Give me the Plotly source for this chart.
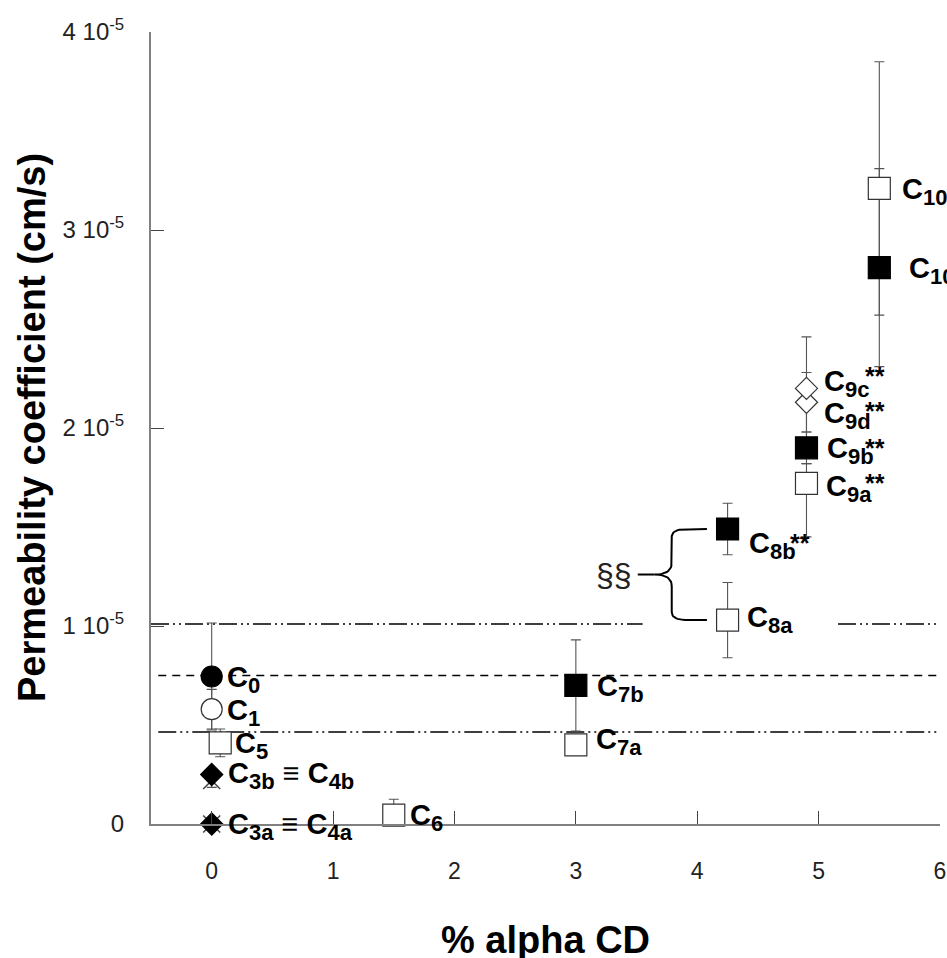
import numpy as np
import plotly.graph_objects as go

# ---------------- data ----------------
samples = ["C0", "C1", "C5", "C4b", "C3b", "C4a", "C3a", "C6", "C7a", "C7b",
           "C8a", "C8b", "C9a", "C9b", "C9d", "C9c", "C10a", "C10b"]
alpha_cd_pct = [0, 0, 0.07, 0, 0, 0, 0, 1.5, 3, 3,
                4.25, 4.25, 4.9, 4.9, 4.9, 4.9, 5.5, 5.5]
# permeability coefficient, cm/s
permeability = [0.745e-5, 0.58e-5, 0.41e-5, 0.22e-5, 0.25e-5, 0.0, 0.0, 0.045e-5, 0.40e-5, 0.70e-5,
                1.03e-5, 1.49e-5, 1.72e-5, 1.90e-5, 2.13e-5, 2.20e-5, 3.21e-5, 2.81e-5]
err_plus = [0.27e-5, 0.10e-5, 0.07e-5, 0.035e-5, 0.0, 0.0, 0.0, 0.08e-5, 0.0, 0.23e-5,
            0.19e-5, 0.13e-5, 0.10e-5, 0.08e-5, 0.15e-5, 0.26e-5, 0.64e-5, 0.50e-5]
err_minus = [0.27e-5, 0.10e-5, 0.07e-5, 0.035e-5, 0.0, 0.0, 0.0, 0.08e-5, 0.0, 0.23e-5,
             0.19e-5, 0.13e-5, 0.27e-5, 0.08e-5, 0.15e-5, 0.26e-5, 0.64e-5, 0.50e-5]

# reference levels (cm/s)
ref_dashdot_high = 1.01e-5
ref_dashed = 0.75e-5
ref_dashdot_low = 0.465e-5

x_ticks = [0, 1, 2, 3, 4, 5, 6]
y_ticks = [0, 1e-5, 2e-5, 3e-5, 4e-5]
y_ticktext = ["0", "1 10<sup>-5</sup>", "2 10<sup>-5</sup>", "3 10<sup>-5</sup>", "4 10<sup>-5</sup>"]

# labels placed at given samples
label_samples = ["C0", "C1", "C5", "C3b", "C3a", "C6", "C7b", "C7a", "C8b", "C8a",
                 "C9c", "C9d", "C9b", "C9a", "C10a", "C10b"]
label_subs = ["0", "1", "5", "3b", "3a", "6", "7b", "7a", "8b", "8a",
              "9c", "9d", "9b", "9a", "10a", "10b"]
label_equiv_subs = {"C3b": "4b", "C3a": "4a"}
label_starred = ["C8b", "C9c", "C9d", "C9b", "C9a"]   # marked "**"

# ---------------- styles ----------------
sym = {"C0": "circle", "C1": "circle", "C5": "square", "C4b": "x-thin", "C3b": "diamond",
       "C4a": "x-thin", "C3a": "diamond", "C6": "square", "C7a": "square", "C7b": "square",
       "C8a": "square", "C8b": "square", "C9a": "square", "C9b": "square", "C9d": "diamond",
       "C9c": "diamond", "C10a": "square", "C10b": "square"}
filled = {"C0", "C3b", "C3a", "C7b", "C8b", "C9b", "C10b"}
msize = {"circle": 21, "square": 22, "diamond": 17, "x-thin": 17}
# label offsets in px: (dx of text start from marker centre, dy of "C" centre below marker)
label_off = {"C0": (16, 0), "C1": (16, 0), "C5": (16, 0), "C3b": (17, -2), "C3a": (17, -1),
             "C6": (17, -1), "C7b": (22, 0), "C7a": (21, -6), "C8b": (22, 14), "C8a": (20, -4),
             "C9c": (19, -8), "C9d": (19, 10), "C9b": (22, 0), "C9a": (21, 2),
             "C10a": (24, 0), "C10b": (31, 0)}
# "**" offsets in px: (dx of stars start from marker centre, dy of stars centre below marker)
star_off = {"C8b": (63, 8), "C9c": (60, -18), "C9d": (60, 3), "C9b": (60, -6), "C9a": (60, -6)}

FONT = "Arial, Liberation Sans, sans-serif"
SUBSPAN = '<sub><span style="font-size:22px">{}</span></sub>'

fig = go.Figure()

# reference lines
dashdotdot = "18px,4px,2px,4px,2px,4px"
fig.add_trace(go.Scatter(x=[-0.5, 3.55, None, 5.16, 6.0],
                         y=[ref_dashdot_high, ref_dashdot_high, None, ref_dashdot_high, ref_dashdot_high],
                         mode="lines", line=dict(color="black", width=1.6, dash=dashdotdot),
                         hoverinfo="skip", showlegend=False))
fig.add_trace(go.Scatter(x=[-0.44, 6.0], y=[ref_dashed, ref_dashed], mode="lines",
                         line=dict(color="black", width=1.6, dash="8px,6px"),
                         hoverinfo="skip", showlegend=False))
fig.add_trace(go.Scatter(x=[-0.44, 6.0], y=[ref_dashdot_low, ref_dashdot_low], mode="lines",
                         line=dict(color="black", width=1.6, dash=dashdotdot),
                         hoverinfo="skip", showlegend=False))

# brace (computed from C8a / C8b)
i8a, i8b = samples.index("C8a"), samples.index("C8b")
x8 = alpha_cd_pct[i8b]
yt, yb = permeability[i8b], permeability[i8a]
ym = (yt + yb) / 2
xr, xs, xtip, xtail = x8 - 0.17, x8 - 0.46, x8 - 0.60, x8 - 0.74
rx, ry, ry2 = 0.13, 0.04e-5, 0.06e-5


def qbez(p0, p1, p2, n=14):
    t = np.linspace(0, 1, n)
    bx = (1 - t) ** 2 * p0[0] + 2 * (1 - t) * t * p1[0] + t ** 2 * p2[0]
    by = (1 - t) ** 2 * p0[1] + 2 * (1 - t) * t * p1[1] + t ** 2 * p2[1]
    return list(bx), list(by)


bxs, bys = [xr], [yt]
for seg in [((xs + rx, yt), (xs, yt), (xs, yt - ry)),
            ((xs, ym + ry2), (xs, ym), (xtip, ym)),
            ((xtip, ym), (xs, ym), (xs, ym - ry2)),
            ((xs, yb + ry), (xs, yb), (xs + rx, yb))]:
    a, b = qbez(*seg)
    bxs += a
    bys += b
bxs += [xr, None, xtip, xtail]
bys += [yb, None, ym, ym]
fig.add_trace(go.Scatter(x=bxs, y=bys, mode="lines", line=dict(color="black", width=2),
                         hoverinfo="skip", showlegend=False))

# error bars (below all markers)
fig.add_trace(go.Scatter(
    x=alpha_cd_pct, y=permeability, mode="markers",
    marker=dict(size=1, color="rgba(0,0,0,0)"),
    error_y=dict(type="data", symmetric=False, array=err_plus, arrayminus=err_minus,
                 color="#555555", thickness=1.1, width=5),
    cliponaxis=False, hoverinfo="skip", showlegend=False))

# markers
symbols = [sym[s] for s in samples]
fig.add_trace(go.Scatter(
    x=alpha_cd_pct, y=permeability, mode="markers", text=samples,
    marker=dict(symbol=symbols, opacity=1,
                size=[msize[s] for s in symbols],
                color=["black" if s in filled else "white" for s in samples],
                line=dict(color=["#444444" if sym[s] == "x-thin" else ("black" if s in filled else "#333333")
                                 for s in samples],
                          width=[1.5 if sym[s] == "x-thin" else 1.2 for s in samples])),
    cliponaxis=False, showlegend=False))

# point labels
for s, sub in zip(label_samples, label_subs):
    i = samples.index(s)
    txt = "C" + SUBSPAN.format(sub)
    if s in label_equiv_subs:
        txt += " ≡ C" + SUBSPAN.format(label_equiv_subs[s])
    dx, dy = label_off[s]
    fig.add_annotation(x=alpha_cd_pct[i], y=permeability[i], text=txt, showarrow=False,
                       xanchor="left", yanchor="middle", xshift=dx - 3, yshift=-(dy + 3),
                       font=dict(family=FONT, size=29, color="black", weight="bold"))

for s in label_starred:
    i = samples.index(s)
    dx, dy = star_off[s]
    fig.add_annotation(x=alpha_cd_pct[i], y=permeability[i], text="**", showarrow=False,
                       xanchor="left", yanchor="middle", xshift=dx - 3, yshift=-(dy + 6),
                       font=dict(family=FONT, size=25, color="black", weight="bold"))

# §§ label
fig.add_annotation(x=xtail, y=ym, text="§§", showarrow=False, xanchor="right", yanchor="middle",
                   xshift=-4, yshift=0, font=dict(family=FONT, size=32, color="#222222"))

# axis titles
fig.add_annotation(xref="paper", yref="paper", x=0.5, y=-0.1465, text="% alpha CD", showarrow=False,
                   xanchor="center", yanchor="middle",
                   font=dict(family=FONT, size=38, color="black", weight="bold"))
fig.add_annotation(xref="paper", yref="paper", x=-0.1508, y=0.5, text="Permeability coefficient (cm/s)",
                   showarrow=False, textangle=-90, xanchor="center", yanchor="middle",
                   font=dict(family=FONT, size=38, color="black", weight="bold"))

fig.update_layout(
    width=947, height=958,
    margin=dict(l=151, r=7, t=32, b=134),
    paper_bgcolor="white", plot_bgcolor="white",
    font=dict(family=FONT, color="#222222"),
    xaxis=dict(range=[-0.5, 6.0], tickvals=x_ticks, ticktext=[str(v) for v in x_ticks],
               automargin=False,
               showgrid=False, zeroline=False, showline=True, linecolor="#808080", linewidth=2,
               ticks="inside", ticklen=13, tickwidth=1.3, tickcolor="#444444",
               ticklabelstandoff=25, tickfont=dict(size=23, color="#222222")),
    yaxis=dict(range=[0, 4e-5], tickvals=y_ticks, ticktext=y_ticktext,
               automargin=False,
               showgrid=False, zeroline=False, showline=True, linecolor="#808080", linewidth=2,
               ticks="inside", ticklen=13, tickwidth=1.3, tickcolor="#444444",
               ticklabelstandoff=20, tickfont=dict(size=24, color="#222222")),
)

# remove the default page margin so the 947x958 figure fills the window exactly
fig.write_html("out.html", config={"displayModeBar": False},
               post_script="document.body.style.margin='0';document.body.style.overflow='hidden';")
